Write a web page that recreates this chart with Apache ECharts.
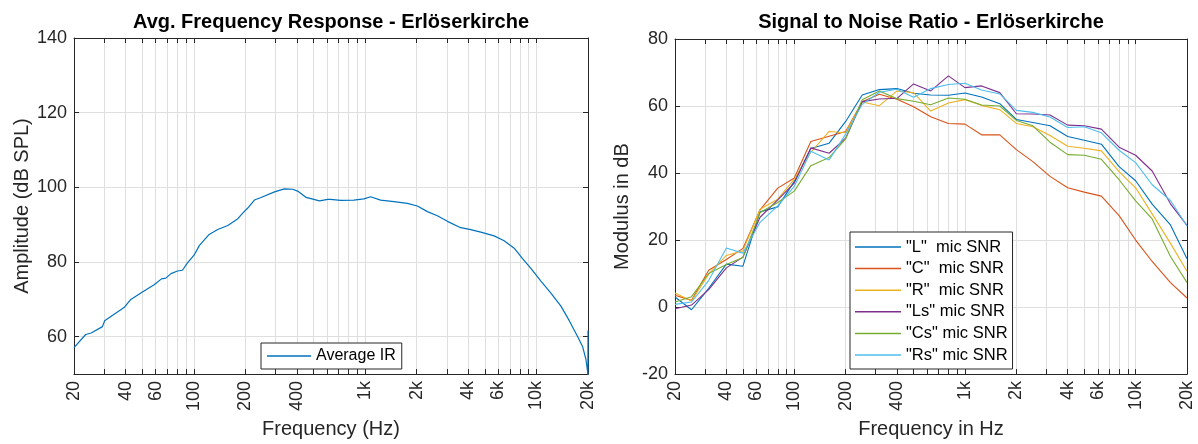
<!DOCTYPE html>
<html>
<head>
<meta charset="utf-8">
<script src="https://cdn.jsdelivr.net/npm/echarts@6/dist/echarts.min.js"></script>
<style>
  html, body { margin: 0; padding: 0; background: #ffffff; }
  #chart { width: 1198px; height: 444px; }
</style>
</head>
<body>
<div id="chart"></div>
<script>
// Averaged impulse-response magnitude (Hz, dB SPL)
const irFreq = [20, 23.4, 25.2, 29.3, 30.2, 34.3, 39.2, 42.9, 49.1, 58.7,
  64.8, 68.7, 73.6, 80.4, 85.9, 91.9, 100.6, 107.7, 123, 138,
  158, 180, 193, 206, 226, 247, 296, 338, 378, 404,
  453, 542, 606, 628, 719, 860, 984, 1077, 1232, 1473,
  1764, 2019, 2310, 2642, 3023, 3615, 4139, 4734, 5667, 6480,
  7416, 8300, 9284, 10620, 12150, 13900, 15550, 17415, 18620, 19460,
  19910, 19960, 20000];
const irLevel = [57.1, 60.6, 61.0, 62.7, 64.3, 66.0, 67.8, 70.0, 71.7, 73.9,
  75.5, 75.7, 76.9, 77.6, 77.8, 79.8, 81.9, 84.4, 87.4, 88.7,
  89.8, 91.5, 93.1, 94.4, 96.6, 97.3, 98.8, 99.6, 99.5, 99.0,
  97.3, 96.4, 96.8, 96.8, 96.5, 96.6, 96.9, 97.5, 96.6, 96.2,
  95.7, 95.0, 93.5, 92.4, 90.9, 89.2, 88.7, 88.0, 87.0, 85.7,
  83.7, 80.9, 78.3, 74.9, 71.7, 68.2, 64.3, 60.0, 57.3, 53.9,
  50.5, 44.0, 61.7];

// Third-octave band centres and SNR per microphone (dB)
const bandFreq = [20, 25, 31.5, 40, 50, 63, 80, 100, 125, 160, 200, 250, 315, 400, 500, 630,
  800, 1000, 1250, 1600, 2000, 2500, 3150, 4000, 5000, 6300, 8000, 10000, 12500, 16000, 20000];
const snrL  = [3.0, -0.8, 5.6, 12.8, 12.2, 28.4, 29.9, 37.5, 47.3, 48.9, 55.4, 63.3, 64.9, 65.2, 63.8, 63.3,
  63.2, 63.9, 62.7, 60.7, 56.0, 55.1, 54.1, 50.9, 49.8, 48.6, 41.9, 37.7, 30.7, 24.5, 14.4];
const snrC  = [3.5, 2.0, 11.0, 14.2, 17.5, 29.0, 35.5, 38.5, 49.4, 51.0, 52.4, 61.3, 63.5, 62.0, 59.8, 56.8,
  54.8, 54.6, 51.4, 51.4, 47.0, 43.4, 39.0, 35.6, 34.3, 33.1, 27.3, 20.0, 13.6, 7.3, 2.7];
const snrR  = [4.2, 1.8, 9.8, 15.4, 16.8, 29.2, 32.2, 38.2, 46.2, 52.4, 52.0, 61.2, 60.1, 64.5, 64.0, 58.5,
  60.9, 61.9, 60.2, 58.9, 54.8, 53.8, 51.2, 48.0, 47.4, 46.6, 40.4, 35.6, 27.8, 19.0, 10.7];
const snrLs = [-0.5, 0.6, 5.2, 11.7, 14.9, 26.8, 32.0, 37.0, 47.5, 45.9, 50.4, 61.3, 62.1, 62.3, 66.6, 64.5,
  69.0, 65.5, 66.0, 64.0, 57.7, 57.6, 57.3, 54.3, 54.1, 53.1, 47.7, 45.3, 40.6, 30.8, 24.4];
const snrCs = [1.5, 3.1, 10.0, 12.7, 14.8, 28.2, 31.2, 34.6, 42.2, 44.6, 50.2, 61.9, 64.5, 62.2, 61.4, 60.4,
  62.4, 62.0, 60.3, 60.0, 55.7, 54.1, 49.2, 45.5, 45.3, 44.1, 38.0, 31.7, 26.3, 15.1, 7.3];
const snrRs = [0.8, 1.5, 7.9, 17.6, 16.1, 25.3, 30.2, 36.0, 46.5, 43.9, 51.6, 60.5, 64.1, 65.0, 62.6, 65.2,
  66.4, 66.8, 64.8, 63.6, 58.7, 58.1, 56.7, 53.6, 53.8, 52.0, 46.8, 43.1, 36.5, 31.8, 24.2];

const snrNames = ['"L"  mic SNR', '"C"  mic SNR', '"R"  mic SNR', '"Ls" mic SNR', '"Cs" mic SNR', '"Rs" mic SNR'];
const snrSets = [snrL, snrC, snrR, snrLs, snrCs, snrRs];
const snrColors = ['#0072BD', '#D95319', '#EDB120', '#7E2F8E', '#77AC30', '#4DBEEE'];

// Axis ticks
const freqLabelTicks = [20, 40, 60, 100, 200, 400, 1000, 2000, 4000, 6000, 10000, 20000];
const freqGridTicks = [20, 30, 40, 50, 60, 70, 80, 90,
  100, 200, 300, 400, 500, 600, 700, 800, 900,
  1000, 2000, 3000, 4000, 5000, 6000, 7000, 8000, 9000, 10000, 20000];
const ampTicks = [60, 80, 100, 120, 140];

const FONT = "'Liberation Sans', Arial, Helvetica, sans-serif";
const INK = '#262626';
const GRID_LINE = '#dfdfdf';

function freqLabel(v) {
  return v >= 1000 ? (v / 1000) + 'k' : String(v);
}

function freqAxis(gridIndex, position, name) {
  const main = position === 'bottom';
  return {
    type: 'log', logBase: 10, gridIndex, position,
    min: 20, max: 20000,
    name: main ? name : '', nameLocation: 'middle', nameGap: 43,
    nameTextStyle: { fontFamily: FONT, fontSize: 20, color: INK },
    axisLine: { show: true, onZero: false, lineStyle: { color: INK, width: 1 } },
    axisTick: { show: true, inside: true, length: 5, customValues: freqGridTicks,
      lineStyle: { color: INK, width: 1 } },
    minorTick: { show: false },
    axisLabel: { show: main, rotate: 90, margin: 7, customValues: freqLabelTicks,
      formatter: freqLabel, fontFamily: FONT, fontSize: 18, color: INK },
    splitLine: { show: main, lineStyle: { color: GRID_LINE, width: 1 } },
    minorSplitLine: { show: false }
  };
}

function levelAxis(gridIndex, position, opts) {
  const main = position === 'left';
  const ax = {
    type: 'value', gridIndex, position,
    min: opts.min, max: opts.max,
    name: main ? opts.name : '', nameLocation: 'middle', nameGap: opts.nameGap,
    nameTextStyle: { fontFamily: FONT, fontSize: 20, color: INK },
    axisLine: { show: true, onZero: false, lineStyle: { color: INK, width: 1 } },
    axisTick: { show: true, inside: true, length: 5, lineStyle: { color: INK, width: 1 } },
    axisLabel: { show: main, margin: 7, fontFamily: FONT, fontSize: 18, color: INK },
    splitLine: { show: main, lineStyle: { color: GRID_LINE, width: 1 } }
  };
  if (opts.ticks) {
    ax.axisTick.customValues = opts.ticks;
    ax.axisLabel.customValues = opts.ticks;
  } else {
    ax.interval = opts.interval;
  }
  return ax;
}

const ampOpts = { min: 50, max: 140, ticks: ampTicks, name: 'Amplitude (dB SPL)', nameGap: 42 };
const snrOpts = { min: -20, max: 80, interval: 20, name: 'Modulus in dB', nameGap: 43 };

const option = {
  animation: false,
  backgroundColor: '#ffffff',
  title: [
    { text: 'Avg. Frequency Response - Erlöserkirche', left: 331, top: 12, padding: 0,
      textAlign: 'center',
      textStyle: { fontFamily: FONT, fontSize: 20, fontWeight: 'bold', color: '#000' } },
    { text: 'Signal to Noise Ratio - Erlöserkirche', left: 931, top: 12, padding: 0,
      textAlign: 'center',
      textStyle: { fontFamily: FONT, fontSize: 20, fontWeight: 'bold', color: '#000' } }
  ],
  grid: [
    { left: 74, right: 610, top: 38, bottom: 63, containLabel: false },
    { left: 675, right: 11, top: 39, bottom: 62, containLabel: false }
  ],
  xAxis: [
    freqAxis(0, 'bottom', 'Frequency (Hz)'),
    freqAxis(0, 'top'),
    freqAxis(1, 'bottom', 'Frequency in Hz'),
    freqAxis(1, 'top')
  ],
  yAxis: [
    levelAxis(0, 'left', ampOpts),
    levelAxis(0, 'right', ampOpts),
    levelAxis(1, 'left', snrOpts),
    levelAxis(1, 'right', snrOpts)
  ],
  legend: [
    {
      data: ['Average IR'], orient: 'vertical', left: 261, top: 343,
      padding: [3, 6, 3, 6], itemWidth: 44, itemHeight: 1.5, icon: 'rect',
      backgroundColor: '#ffffff', borderColor: INK, borderWidth: 1, borderRadius: 0,
      textStyle: { fontFamily: FONT, fontSize: 16, color: '#000', lineHeight: 20 }
    },
    {
      data: snrNames, orient: 'vertical', left: 850, top: 232,
      padding: [5, 5, 4, 5], itemWidth: 46, itemHeight: 1.5, itemGap: 1.6, icon: 'rect',
      backgroundColor: '#ffffff', borderColor: INK, borderWidth: 1, borderRadius: 0,
      textStyle: { fontFamily: FONT, fontSize: 16.5, color: '#000', lineHeight: 20 }
    }
  ],
  series: [
    {
      name: 'Average IR', type: 'line', xAxisIndex: 0, yAxisIndex: 0,
      data: irFreq.map((f, i) => [f, irLevel[i]]),
      showSymbol: false, symbol: 'none', clip: true,
      color: '#0072BD', lineStyle: { color: '#0072BD', width: 1.2 }
    }
  ].concat(snrSets.map((vals, k) => ({
    name: snrNames[k], type: 'line', xAxisIndex: 2, yAxisIndex: 2,
    data: bandFreq.map((f, i) => [f, vals[i]]),
    showSymbol: false, symbol: 'none', clip: true,
    color: snrColors[k], lineStyle: { color: snrColors[k], width: 1.1 }
  })))
};

const chart = echarts.init(document.getElementById('chart'), null, { renderer: 'canvas' });
chart.setOption(option);
</script>
</body>
</html>
